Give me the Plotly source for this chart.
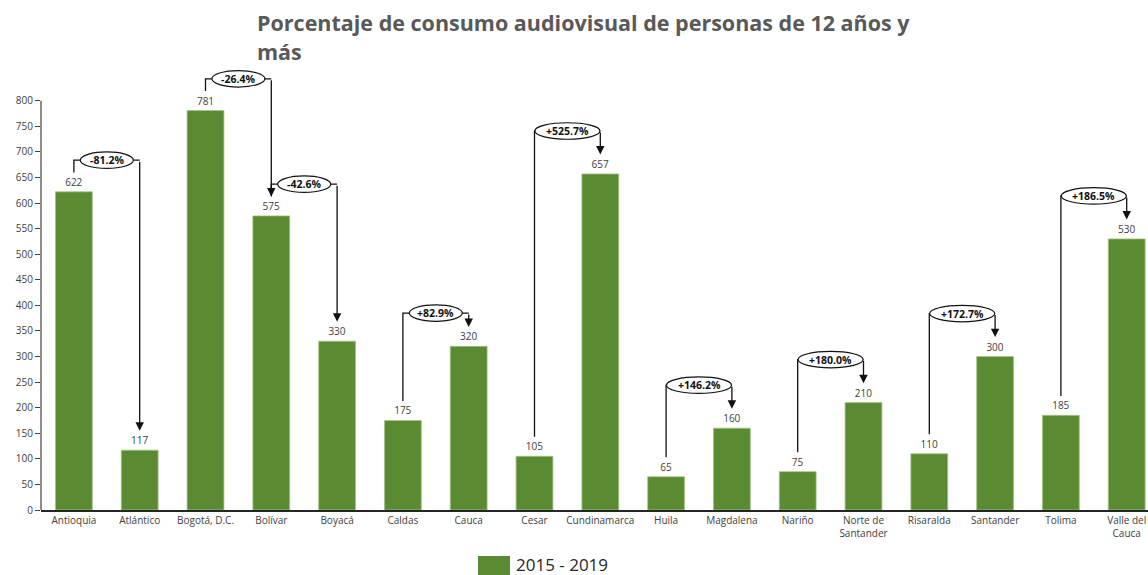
import plotly.graph_objects as go

# Departamentos y consumo audiovisual (2015 - 2019)
departamentos = [
    "Antioquia", "Atlántico", "Bogotá, D.C.", "Bolívar", "Boyacá", "Caldas",
    "Cauca", "Cesar", "Cundinamarca", "Huila", "Magdalena", "Nariño",
    "Norte de<br>Santander", "Risaralda", "Santander", "Tolima", "Valle del<br>Cauca",
]
consumo = [622, 117, 781, 575, 330, 175, 320, 105, 657, 65, 160, 75, 210, 110, 300, 185, 530]
y_ticks = [0, 50, 100, 150, 200, 250, 300, 350, 400, 450, 500, 550, 600, 650, 700, 750, 800]
serie = "2015 - 2019"
titulo = ["Porcentaje de consumo audiovisual de personas de 12 años y", "más"]

# Pares comparados (origen -> destino) y holgura del conector sobre la barra más alta
pares = [(0, 1), (2, 3), (3, 4), (5, 6), (7, 8), (9, 10), (11, 12), (13, 14), (15, 16)]
holgura = [62, 62, 62, 65, 84, 84, 84, 84, 84]

VERDE = "#5a8b32"
W, H = 1148, 575
M_L, M_R, M_T, M_B = 41, 0, 65, 65
Y_MAX = 870

fig = go.Figure()
fig.add_trace(go.Bar(
    x=departamentos, y=consumo, name=serie,
    marker=dict(color=VERDE, line=dict(color="#a3c486", width=0.8)),
    text=[str(v) for v in consumo], textposition="outside",
    textfont=dict(family="Open Sans", size=10, color="#404040"),
    cliponaxis=False, showlegend=False,
))

shapes = []
annotations = []

# eje Y dibujado solo hasta 800
shapes.append(dict(type="line", xref="paper", yref="y", x0=0, x1=0, y0=0, y1=800,
                   line=dict(color="#404040", width=1.2)))

offset_etiqueta = 38
for (a, b), h in zip(pares, holgura):
    va, vb = consumo[a], consumo[b]
    nivel = max(va, vb) + h
    pct = (vb - va) / va * 100
    texto = f"{pct:+.1f}%"
    # conector: sube desde el origen y cruza hasta el destino
    shapes.append(dict(
        type="path", xref="x", yref="y",
        path=f"M {a},{va + offset_etiqueta} L {a},{nivel} L {b},{nivel}",
        line=dict(color="#111111", width=1.3),
    ))
    # elipse con el porcentaje
    ancho_px = 12 * len(texto) - 19
    ancho = ancho_px / 65.8
    medio = (a + b) / 2
    alto = 16.5 / 0.5115
    shapes.append(dict(
        type="circle", xref="x", yref="y",
        x0=medio - ancho / 2, x1=medio + ancho / 2,
        y0=nivel - alto / 2, y1=nivel + alto / 2,
        fillcolor="white", line=dict(color="#111111", width=1.2), layer="above",
    ))
    annotations.append(dict(
        x=medio, y=nivel, xref="x", yref="y", text=texto, showarrow=False,
        font=dict(family="Open Sans", size=10.5, color="#111111", weight=700),
    ))
    # flecha hacia el destino
    annotations.append(dict(
        x=b, y=vb + offset_etiqueta, ax=b, ay=nivel, xref="x", yref="y",
        axref="x", ayref="y", text="", showarrow=True,
        arrowhead=2, arrowsize=1.3, arrowwidth=1.3, arrowcolor="#111111", standoff=0,
    ))

plot_w = W - M_L - M_R
plot_h = H - M_T - M_B


def px_x(px):
    return (px - M_L) / plot_w


def px_y(py):
    return (H - M_B - py) / plot_h


# título en dos líneas
for linea, yc in zip(titulo, (22.5, 51.5)):
    annotations.append(dict(xref="paper", yref="paper", x=px_x(255), y=px_y(yc),
                            xanchor="left", yanchor="middle", align="left", text=linea,
                            showarrow=False,
                            font=dict(family="Open Sans", size=21.5, color="#595959", weight=700)))

# leyenda
shapes.append(dict(type="rect", xref="paper", yref="paper",
                   x0=px_x(478), x1=px_x(510), y0=px_y(582), y1=px_y(556),
                   fillcolor=VERDE, line=dict(width=0)))
annotations.append(dict(xref="paper", yref="paper", x=px_x(514), y=px_y(564),
                        xanchor="left", yanchor="middle", text=serie, showarrow=False,
                        font=dict(family="Open Sans", size=17, color="#262626")))

fig.update_layout(
    width=W, height=H,
    margin=dict(l=M_L, r=M_R, t=M_T, b=M_B),
    paper_bgcolor="white", plot_bgcolor="white",
    bargap=0.44,
    xaxis=dict(
        range=[-0.5, -0.5 + (W - M_L) / 65.8], showline=True, linecolor="#262626",
        linewidth=1.5, ticks="", showgrid=False, zeroline=False,
        tickfont=dict(family="Open Sans", size=10, color="#404040"),
    ),
    yaxis=dict(
        range=[0, Y_MAX], tickvals=y_ticks, ticks="outside", ticklen=5,
        tickcolor="#404040", showline=False, showgrid=False, zeroline=False,
        tickfont=dict(family="Open Sans", size=10, color="#404040"),
    ),
    shapes=shapes, annotations=annotations,
    showlegend=False,
)

fig.write_html("out.html")
